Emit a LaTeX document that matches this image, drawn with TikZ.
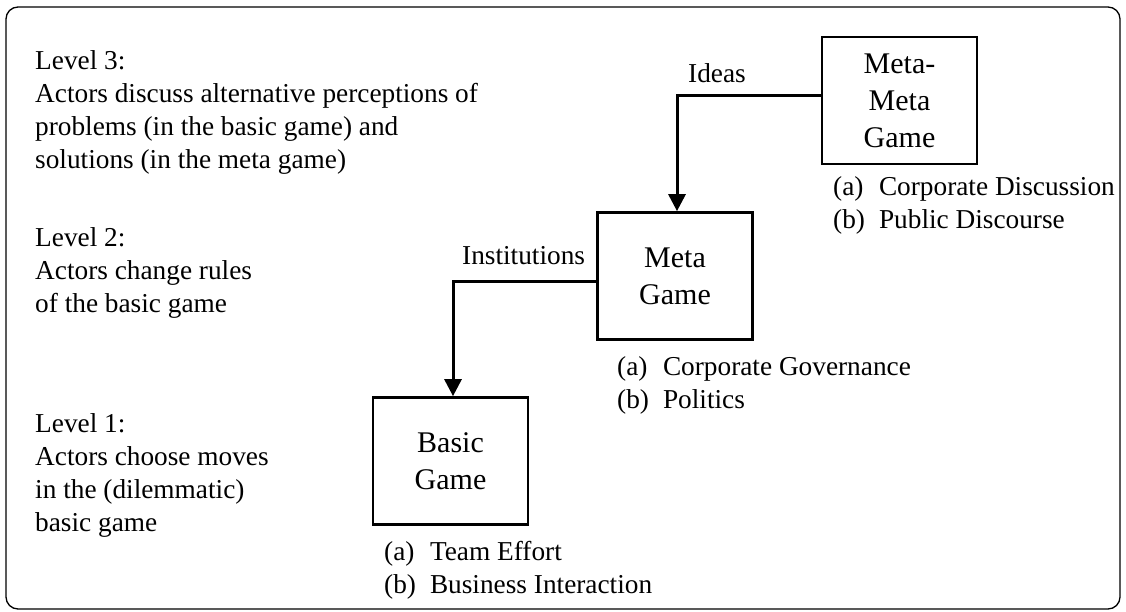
\documentclass[tikz,border=0pt]{standalone}
\usepackage{fontspec}
\setmainfont{Liberation Serif}
\usetikzlibrary{arrows.meta}
\tikzset{
  gamebox/.style={draw, line width=2.7pt, minimum width=155pt, minimum height=127pt,
    align=center, inner sep=0pt, font=\fontsize{30}{37}\selectfont},
  txt/.style={anchor=base west, inner sep=0pt, font=\fontsize{27.3}{33}\selectfont},
  flow/.style={line width=3pt, -{Triangle[width=17pt,length=17pt]}},
  frame/.style={line width=1.3pt, rounded corners=12pt}
}
\newcommand{\lvltext}[1]{\begin{tabular}[t]{@{}l@{}}#1\end{tabular}}
\newcommand{\itemlist}[2]{\begin{tabular}[t]{@{}l@{\hspace{14pt}}l@{}}(a) & #1\\ (b) & #2\end{tabular}}
\begin{document}
\begin{tikzpicture}[x=1pt,y=-1pt]
\useasboundingbox (0,0) rectangle (1126,612);
\draw[frame] (6,7) rectangle (1120,609);

% game boxes
\node[gamebox] (mm) at (899.5,100.5) {Meta-\\Meta\\Game};
\node[gamebox] (meta) at (675,276) {Meta\\Game};
\node[gamebox] (basic) at (450.5,461) {Basic\\Game};

% connectors
\draw[flow] ([yshift=4.5pt]mm.west) -| ([xshift=2pt]meta.north);
\draw[flow] ([yshift=-5pt]meta.west) -| ([xshift=2.5pt]basic.north);

% connector labels
\node[txt] (ideas) at (688,83) {Ideas};
\node[txt] (inst) at (462,265) {Institutions};

% lists
\node[txt] (mmlist) at (833,196) {\itemlist{Corporate Discussion}{Public Discourse}};
\node[txt] (metalist) at (617,375) {\itemlist{Corporate Governance}{Politics}};
\node[txt] (basiclist) at (384,560) {\itemlist{Team Effort}{Business Interaction}};

% level descriptions
\node[txt] (lvl3) at (35,70) {\lvltext{Level 3:\\Actors discuss alternative perceptions of\\problems (in the basic game) and\\solutions (in the meta game)}};
\node[txt] (lvl2) at (35,247) {\lvltext{Level 2:\\Actors change rules\\of the basic game}};
\node[txt] (lvl1) at (35,432) {\lvltext{Level 1:\\Actors choose moves\\in the (dilemmatic)\\basic game}};
\end{tikzpicture}
\end{document}
